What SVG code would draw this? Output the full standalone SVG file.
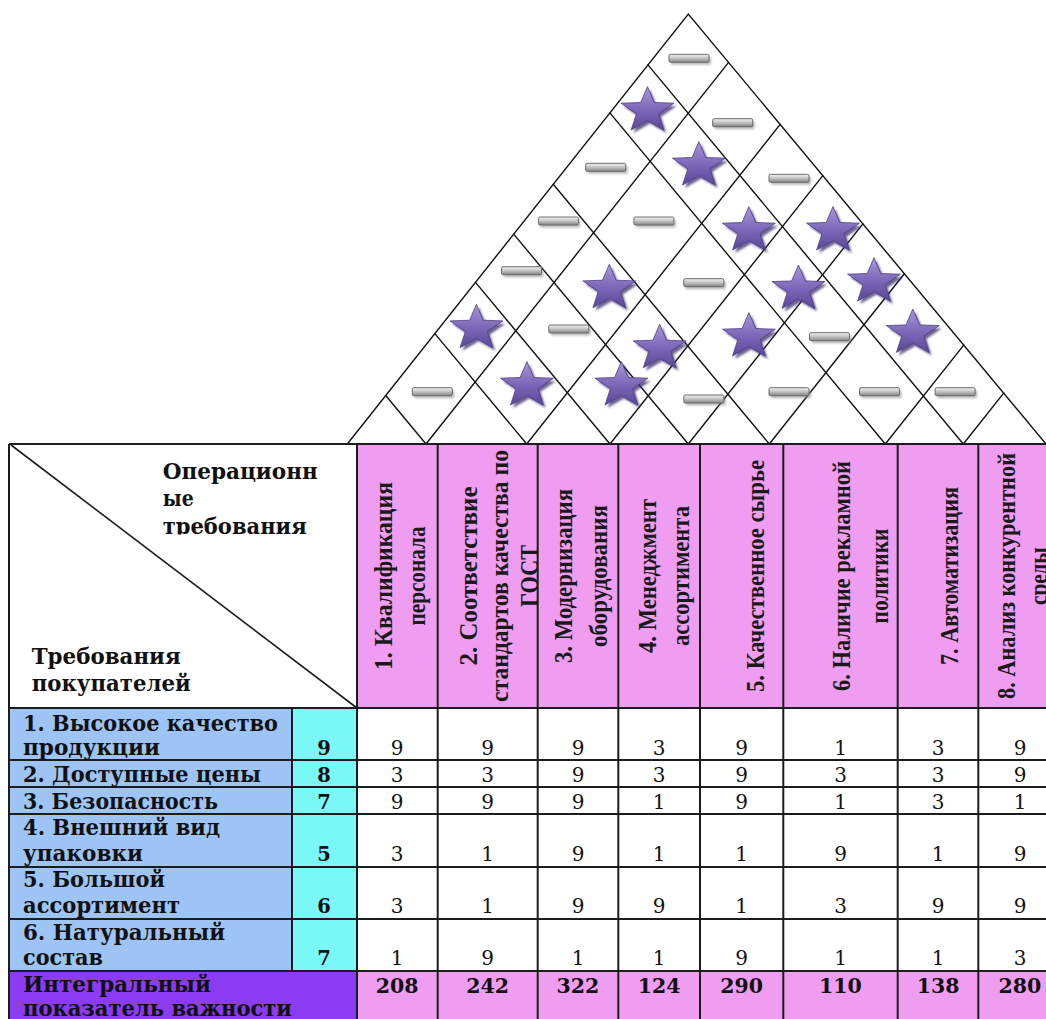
<svg xmlns="http://www.w3.org/2000/svg" width="1046" height="1019" viewBox="0 0 1046 1019">
<defs>
<style>
.grid{stroke:#1c1c1c;stroke-width:2;fill:none}
.roof{stroke:#111;stroke-width:1.4;fill:none;stroke-linecap:round}
.hdr{font-family:"Liberation Serif","Times New Roman",serif;font-weight:bold;font-size:26px;fill:#1a1a1a;text-anchor:middle}
.lbl{font-family:"DejaVu Serif",serif;font-weight:bold;font-size:21.5px;fill:#111}
.w{font-family:"DejaVu Serif",serif;font-weight:bold;font-size:19.5px;fill:#111;text-anchor:middle}
.v{font-family:"DejaVu Serif",serif;font-size:20px;fill:#111;text-anchor:middle}
.t{font-family:"DejaVu Serif",serif;font-weight:bold;font-size:20.5px;fill:#111;text-anchor:middle}
.pink{fill:#EE9DF1}
</style>
<linearGradient id="starG" x1="0" y1="0" x2="0" y2="1">
<stop offset="0" stop-color="#a898da"/>
<stop offset="0.5" stop-color="#7d6aba"/>
<stop offset="1" stop-color="#5a4798"/>
</linearGradient>
<linearGradient id="barG" x1="0" y1="0" x2="0" y2="1">
<stop offset="0" stop-color="#f2f2f2"/>
<stop offset="0.45" stop-color="#c8c8c8"/>
<stop offset="1" stop-color="#858585"/>
</linearGradient>
<filter id="blur" x="-30%" y="-30%" width="160%" height="160%"><feGaussianBlur stdDeviation="1.2"/></filter>
<clipPath id="clipTr"><rect x="0" y="444" width="357" height="90.5"/></clipPath>
<clipPath id="clipC2"><rect x="437.7" y="444" width="100" height="264"/></clipPath>
<g id="star">
<polygon points="0,-21.7 6.82,-5.79 26.48,-5.12 11.03,5.39 16.37,21.72 0,12.3 -16.37,21.72 -11.03,5.39 -26.48,-5.12 -6.82,-5.79" transform="translate(2.5,3)" fill="#3b2e68" opacity="0.75" filter="url(#blur)"/>
<polygon points="0,-21.7 6.82,-5.79 26.48,-5.12 11.03,5.39 16.37,21.72 0,12.3 -16.37,21.72 -11.03,5.39 -26.48,-5.12 -6.82,-5.79" fill="url(#starG)" stroke="#4e3d86" stroke-width="0.8"/>
</g>
<g id="bar">
<rect x="-18" y="-1.5" width="40" height="8" rx="1.5" fill="#808080" opacity="0.55" filter="url(#blur)"/>
<rect x="-20" y="-4" width="40" height="8" rx="1.5" fill="url(#barG)" stroke="#6a6a6a" stroke-width="1"/>
</g>
</defs>

<rect x="0" y="0" width="1046" height="1019" fill="#ffffff"/>

<!-- table fills -->
<g id="fills">
<rect class="pink" x="357" y="444" width="689" height="264"/>
<rect x="9" y="708" width="283" height="263" fill="#9EC4F6"/>
<rect x="292" y="708" width="65" height="263" fill="#7AF7F7"/>
<rect x="9" y="971" width="348" height="48" fill="#8B3CF2"/>
<rect class="pink" x="357" y="971" width="689" height="48"/>
</g>

<!-- roof grid -->
<g id="roof-grid" class="roof">
<path d="M347.3,444 L688.3,14 L1046,444"/>
<path d="M426,444 L728.59,62.43 M526.7,444 L780.14,124.41 M610,444 L822.79,175.67 M688.3,444 L862.88,223.86 M769.3,444 L904.34,273.71 M885.3,444 L963.73,345.1 M963.3,444 L1003.66,393.1"/>
<path d="M426,444 L385.71,395.56 M526.7,444 L434.86,333.59 M610,444 L475.51,282.33 M688.3,444 L513.72,234.14 M769.3,444 L553.26,184.29 M885.3,444 L609.87,112.9 M963.3,444 L647.94,64.9"/>
</g>

<!-- roof symbols -->
<g id="roof-symbols">
<use href="#bar" x="689" y="58.3"/>
<use href="#bar" x="732.7" y="122.7"/>
<use href="#bar" x="605.7" y="167.3"/>
<use href="#bar" x="789" y="178.3"/>
<use href="#bar" x="558.4" y="221"/>
<use href="#bar" x="653.9" y="221"/>
<use href="#bar" x="521.5" y="270.7"/>
<use href="#bar" x="703.8" y="282.7"/>
<use href="#bar" x="568.8" y="329"/>
<use href="#bar" x="829.5" y="336.7"/>
<use href="#bar" x="432.3" y="391.7"/>
<use href="#bar" x="703.8" y="399"/>
<use href="#bar" x="789" y="391.7"/>
<use href="#bar" x="879.5" y="391.7"/>
<use href="#bar" x="955.1" y="391.7"/>
<use href="#star" x="647.5" y="108.3"/>
<use href="#star" x="698.9" y="163.3"/>
<use href="#star" x="748.9" y="228.3"/>
<use href="#star" x="833" y="228.3"/>
<use href="#star" x="609.3" y="286"/>
<use href="#star" x="798.4" y="286.7"/>
<use href="#star" x="874" y="279.3"/>
<use href="#star" x="476.4" y="326"/>
<use href="#star" x="659.7" y="346"/>
<use href="#star" x="748.9" y="334.3"/>
<use href="#star" x="912.8" y="330.7"/>
<use href="#star" x="526.9" y="383.3"/>
<use href="#star" x="621.4" y="383.3"/>
</g>

<!-- table grid -->
<g id="table-grid" class="grid">
<path d="M9,444 H1046 M9,708 H1046 M9,760 H1046 M9,787 H1046 M9,814 H1046 M9,867 H1046 M9,919 H1046 M9,971 H1046"/>
<path d="M9,444 V1019 M292,708 V971 M357,444 V1019 M437.7,444 V1019 M537.7,444 V1019 M618.3,444 V1019 M700,444 V1019 M783.3,444 V1019 M897.7,444 V1019 M978.3,444 V1019"/>
<path d="M11,445 L357,708" stroke-width="1.6"/>
</g>

<!-- corner header -->
<g id="corner-header">
<text class="lbl" x="162.7" y="479" textLength="155" lengthAdjust="spacingAndGlyphs">Операционн</text>
<text class="lbl" x="162.7" y="506" textLength="31" lengthAdjust="spacingAndGlyphs">ые</text>
<text class="lbl" x="162.7" y="534" textLength="144" lengthAdjust="spacingAndGlyphs" clip-path="url(#clipTr)">требования</text>
<text class="lbl" x="31.7" y="664" textLength="149" lengthAdjust="spacingAndGlyphs">Требования</text>
<text class="lbl" x="31.7" y="691" textLength="159" lengthAdjust="spacingAndGlyphs">покупателей</text>
</g>

<!-- column headers -->
<g id="col1"><text class="hdr" transform="translate(392,576) rotate(-90)" textLength="188" lengthAdjust="spacingAndGlyphs">1. Квалификация</text><text class="hdr" transform="translate(425,576) rotate(-90)" textLength="99" lengthAdjust="spacingAndGlyphs">персонала</text></g>
<g id="col2" clip-path="url(#clipC2)"><text class="hdr" transform="translate(477,576) rotate(-90)" textLength="179" lengthAdjust="spacingAndGlyphs">2. Соответствие</text><text class="hdr" transform="translate(508,576) rotate(-90)" textLength="252" lengthAdjust="spacingAndGlyphs">стандартов качества по</text><text class="hdr" transform="translate(538,576) rotate(-90)" textLength="62" lengthAdjust="spacingAndGlyphs">ГОСТ</text></g>
<g id="col3"><text class="hdr" transform="translate(572,576) rotate(-90)" textLength="174" lengthAdjust="spacingAndGlyphs">3. Модернизация</text><text class="hdr" transform="translate(607,576) rotate(-90)" textLength="142" lengthAdjust="spacingAndGlyphs">оборудования</text></g>
<g id="col4"><text class="hdr" transform="translate(655.5,576) rotate(-90)" textLength="154" lengthAdjust="spacingAndGlyphs">4. Менеджмент</text><text class="hdr" transform="translate(689,576) rotate(-90)" textLength="140" lengthAdjust="spacingAndGlyphs">ассортимента</text></g>
<g id="col5"><text class="hdr" transform="translate(764,576) rotate(-90)" textLength="232" lengthAdjust="spacingAndGlyphs">5. Качественное сырье</text></g>
<g id="col6"><text class="hdr" transform="translate(850,576) rotate(-90)" textLength="230" lengthAdjust="spacingAndGlyphs">6. Наличие рекламной</text><text class="hdr" transform="translate(888,576) rotate(-90)" textLength="95" lengthAdjust="spacingAndGlyphs">политики</text></g>
<g id="col7"><text class="hdr" transform="translate(957.5,576) rotate(-90)" textLength="178" lengthAdjust="spacingAndGlyphs">7. Автоматизация</text></g>
<g id="col8"><text class="hdr" transform="translate(1015,576) rotate(-90)" textLength="246" lengthAdjust="spacingAndGlyphs">8. Анализ конкурентной</text><text class="hdr" transform="translate(1047,576) rotate(-90)" textLength="58" lengthAdjust="spacingAndGlyphs">среды</text></g>

<!-- rows -->
<g id="row1">
<text class="lbl" x="23" y="730.5" textLength="255" lengthAdjust="spacingAndGlyphs">1. Высокое качество</text>
<text class="lbl" x="23" y="755" textLength="137" lengthAdjust="spacingAndGlyphs">продукции</text>
<text class="w" x="324" y="755">9</text>
<g class="v"><text x="397.2" y="755">9</text><text x="487.7" y="755">9</text><text x="578" y="755">9</text><text x="659.2" y="755">3</text><text x="741.7" y="755">9</text><text x="840.5" y="755">1</text><text x="938.2" y="755">3</text><text x="1020" y="755">9</text></g>
</g>
<g id="row2">
<text class="lbl" x="23" y="782" textLength="238" lengthAdjust="spacingAndGlyphs">2. Доступные цены</text>
<text class="w" x="324" y="782">8</text>
<g class="v"><text x="397.2" y="782">3</text><text x="487.7" y="782">3</text><text x="578" y="782">9</text><text x="659.2" y="782">3</text><text x="741.7" y="782">9</text><text x="840.5" y="782">3</text><text x="938.2" y="782">3</text><text x="1020" y="782">9</text></g>
</g>
<g id="row3">
<text class="lbl" x="23" y="808.5" textLength="195" lengthAdjust="spacingAndGlyphs">3. Безопасность</text>
<text class="w" x="324" y="808.5">7</text>
<g class="v"><text x="397.2" y="808.5">9</text><text x="487.7" y="808.5">9</text><text x="578" y="808.5">9</text><text x="659.2" y="808.5">1</text><text x="741.7" y="808.5">9</text><text x="840.5" y="808.5">1</text><text x="938.2" y="808.5">3</text><text x="1020" y="808.5">1</text></g>
</g>
<g id="row4">
<text class="lbl" x="23" y="835" textLength="197" lengthAdjust="spacingAndGlyphs">4. Внешний вид</text>
<text class="lbl" x="23" y="861" textLength="120" lengthAdjust="spacingAndGlyphs">упаковки</text>
<text class="w" x="324" y="861">5</text>
<g class="v"><text x="397.2" y="861">3</text><text x="487.7" y="861">1</text><text x="578" y="861">9</text><text x="659.2" y="861">1</text><text x="741.7" y="861">1</text><text x="840.5" y="861">9</text><text x="938.2" y="861">1</text><text x="1020" y="861">9</text></g>
</g>
<g id="row5">
<text class="lbl" x="23" y="887" textLength="142" lengthAdjust="spacingAndGlyphs">5. Большой</text>
<text class="lbl" x="23" y="913" textLength="157" lengthAdjust="spacingAndGlyphs">ассортимент</text>
<text class="w" x="324" y="913">6</text>
<g class="v"><text x="397.2" y="913">3</text><text x="487.7" y="913">1</text><text x="578" y="913">9</text><text x="659.2" y="913">9</text><text x="741.7" y="913">1</text><text x="840.5" y="913">3</text><text x="938.2" y="913">9</text><text x="1020" y="913">9</text></g>
</g>
<g id="row6">
<text class="lbl" x="23" y="939.5" textLength="202" lengthAdjust="spacingAndGlyphs">6. Натуральный</text>
<text class="lbl" x="23" y="965" textLength="80" lengthAdjust="spacingAndGlyphs">состав</text>
<text class="w" x="324" y="965">7</text>
<g class="v"><text x="397.2" y="965">1</text><text x="487.7" y="965">9</text><text x="578" y="965">1</text><text x="659.2" y="965">1</text><text x="741.7" y="965">9</text><text x="840.5" y="965">1</text><text x="938.2" y="965">1</text><text x="1020" y="965">3</text></g>
</g>
<g id="totals">
<text class="lbl" x="23" y="991.5" textLength="188" lengthAdjust="spacingAndGlyphs">Интегральный</text>
<text class="lbl" x="23" y="1016" textLength="269" lengthAdjust="spacingAndGlyphs">показатель важности</text>
<g class="t"><text x="397.2" y="993">208</text><text x="487.7" y="993">242</text><text x="578" y="993">322</text><text x="659.2" y="993">124</text><text x="741.7" y="993">290</text><text x="840.5" y="993">110</text><text x="938.2" y="993">138</text><text x="1020" y="993">280</text></g>
</g>
</svg>
